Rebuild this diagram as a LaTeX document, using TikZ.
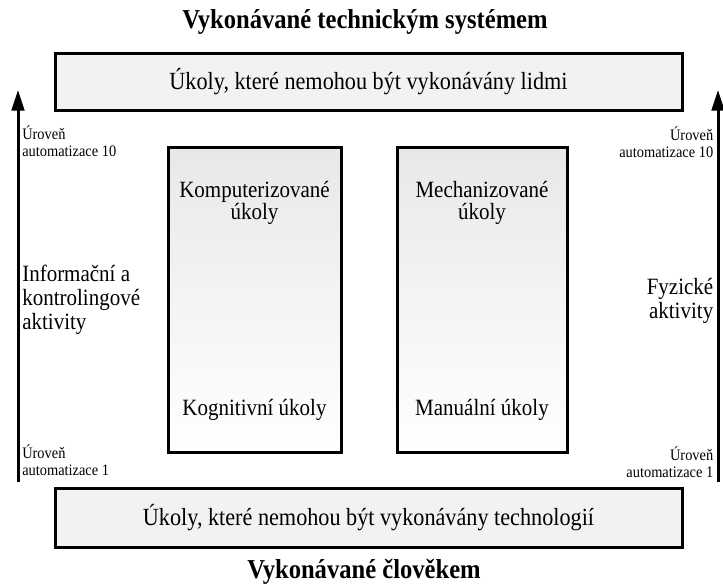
\documentclass[tikz,border=0pt]{standalone}
\usepackage{fontspec}
\setmainfont[FakeStretch=0.9]{Liberation Serif}
\usetikzlibrary{arrows.meta}
\tikzset{
  band/.style={draw=black, line width=2.25pt, fill=black!5, inner sep=0pt,
    minimum width=627*0.75pt, font=\fontsize{18.5}{22}\selectfont},
  column/.style={draw=black, line width=2.25pt, inner sep=0pt,
    top color=black!9, bottom color=white, minimum height=305*0.75pt},
  heading/.style={font=\fontsize{20.5}{24}\selectfont\bfseries},
  tasktext/.style={align=center, font=\fontsize{17.5}{16.5}\selectfont},
  level/.style={font=\fontsize{12}{12.75}\selectfont, inner sep=0pt},
  activity/.style={font=\fontsize{17.5}{18}\selectfont, inner sep=0pt},
  axis/.style={line width=2.25pt, -{Triangle[length=15.5pt, width=9.5pt]}},
}
\begin{document}
\begin{tikzpicture}[x=0.75pt, y=-0.75pt]
  \useasboundingbox (0,0) rectangle (723,587);

  % headings
  \node[heading] (tophead) at (365,22) {Vykonávané technickým systémem};
  \node[heading] (bothead) at (364,572) {Vykonávané člověkem};

  % horizontal bands
  \node[band, minimum height=57*0.75pt] (topband) at (368.5,81.5) {Úkoly, které nemohou být vykonávány lidmi};
  \node[band, minimum height=59*0.75pt] (botband) at (368.5,517.5) {Úkoly, které nemohou být vykonávány technologií};

  % task columns
  \node[column, minimum width=173*0.75pt] (cogcol) at (254.5,299.5) {};
  \node[column, minimum width=170*0.75pt] (mancol) at (482,299.5) {};
  \node[tasktext] (comp) at (254.5,203) {Komputerizované\\úkoly};
  \node[tasktext] (cog) at (254.5,410) {Kognitivní úkoly};
  \node[tasktext] (mech) at (482,203) {Mechanizované\\úkoly};
  \node[tasktext] (man) at (482,410) {Manuální úkoly};

  % automation axes
  \coordinate (lbase) at (18,482);
  \coordinate (ltip) at (18,90);
  \coordinate (rbase) at (718,482);
  \coordinate (rtip) at (718,90);
  \draw[axis] (lbase) -- (ltip);
  \draw[axis] (rbase) -- (rtip);

  % axis labels, left
  \node[level, anchor=west, align=left] (lhigh) at (22,141) {Úroveň\\automatizace 10};
  \node[activity, anchor=west, align=left] (linfo) at (22,300) {Informační a\\kontrolingové\\aktivity};
  \node[level, anchor=west, align=left] (llow) at (22,460) {Úroveň\\automatizace 1};

  % axis labels, right
  \node[level, anchor=east, align=right] (rhigh) at (713.5,142) {Úroveň\\automatizace 10};
  \node[activity, anchor=east, align=right] (rphys) at (713.5,301) {Fyzické\\aktivity};
  \node[level, anchor=east, align=right] (rlow) at (713.5,462) {Úroveň\\automatizace 1};
\end{tikzpicture}
\end{document}
